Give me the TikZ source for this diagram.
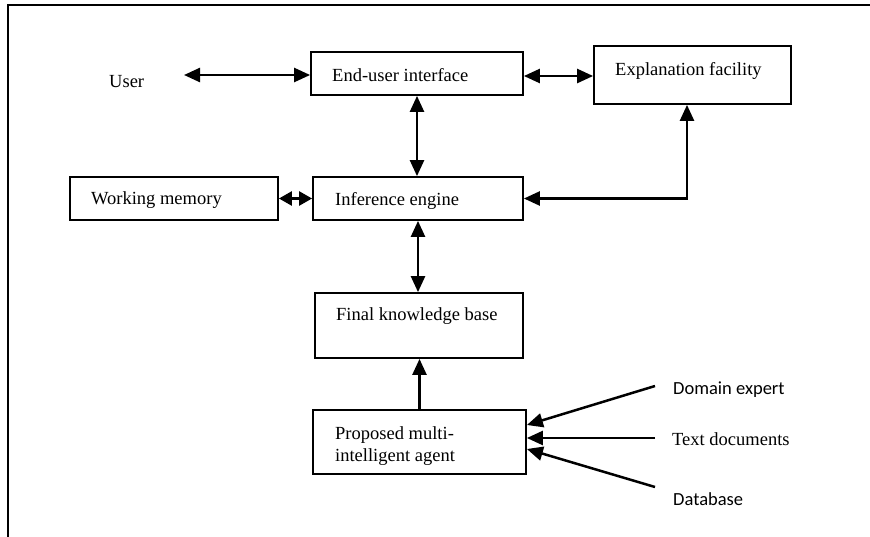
\documentclass[tikz,border=0pt]{standalone}
\usepackage{fontspec}
\setmainfont{Liberation Serif}
\newfontfamily\calibrifont{Carlito}
\usetikzlibrary{arrows.meta}
\begin{document}
\begin{tikzpicture}[x=1pt,y=-1pt,
  box/.style={draw,line width=1.8pt,inner sep=0pt,minimum width=#1},
  lbl/.style={anchor=base west,inner sep=0pt,font=\fontsize{18.5}{22}\selectfont},
  clbl/.style={anchor=base west,inner sep=0pt,font=\calibrifont\fontsize{18.5}{22}\selectfont},
  tip/.tip={Triangle[length=16pt 0 1,width=14pt 0 1]},
  stip/.tip={Triangle[length=13pt 0 1,width=14pt 0 1]},
  dbl/.style={line width=2.5pt,tip-tip},
  sdbl/.style={line width=2.5pt,stip-stip},
  sgl/.style={line width=2.5pt,-tip},
  frame/.style={line width=2pt}]
\useasboundingbox (0,0) rectangle (870,536);
\clip (0,0) rectangle (870,536);
% frame
\draw[frame] (8,545) -- (8,4.5) -- (880,4.5);
% boxes
\node[box=212pt,minimum height=43pt] (eui) at (417,73.5) {};
\node[box=197pt,minimum height=58pt] (expl) at (692.5,75) {};
\node[box=208pt,minimum height=43pt] (wm) at (174,198.5) {};
\node[box=210pt,minimum height=43pt] (ie) at (418,198.5) {};
\node[box=208pt,minimum height=65pt] (fkb) at (419,325.5) {};
\node[box=213pt,minimum height=64pt] (pma) at (419.5,442) {};
% labels
\node[lbl] (user) at (109,87) {User};
\node[lbl] (euit) at (332,81) {End-user interface};
\node[lbl] (explt) at (615,75) {Explanation facility};
\node[lbl] (wmt) at (91,204.5) {Working memory};
\node[lbl] (iet) at (335,205) {Inference engine};
\node[lbl] (fkbt) at (336,320) {Final knowledge base};
\node[lbl] (pmat1) at (335,439) {Proposed multi-};
\node[lbl] (pmat2) at (335,461) {intelligent agent};
\node[clbl] (dom) at (673,394) {Domain expert};
\node[lbl] (txt) at (672,445) {Text documents};
\node[clbl] (db) at (673,505) {Database};
% free ends
\coordinate (ua) at (184,75);
\coordinate (doma) at (655,386);
\coordinate (txta) at (655,438);
\coordinate (dba) at (655,487);
% connectors
\draw[dbl] (ua) -- (eui.west |- ua);
\draw[dbl] (eui.east |- 0,76) -- (expl.west |- 0,76);
\draw[dbl] (eui.south) -- (eui.south |- ie.north);
\draw[sdbl] (wm.east) -- (ie.west);
\draw[dbl] (ie.east) -| ([xshift=-5.5pt]expl.south);
\draw[dbl] (ie.south) -- (ie.south |- fkb.north);
\draw[sgl] (pma.north) -- (pma.north |- fkb.south);
\draw[sgl] (doma) -- (pma.east |- 0,425);
\draw[sgl] (txta) -- (pma.east |- txta);
\draw[sgl] (dba) -- (pma.east |- 0,449);
\end{tikzpicture}
\end{document}
